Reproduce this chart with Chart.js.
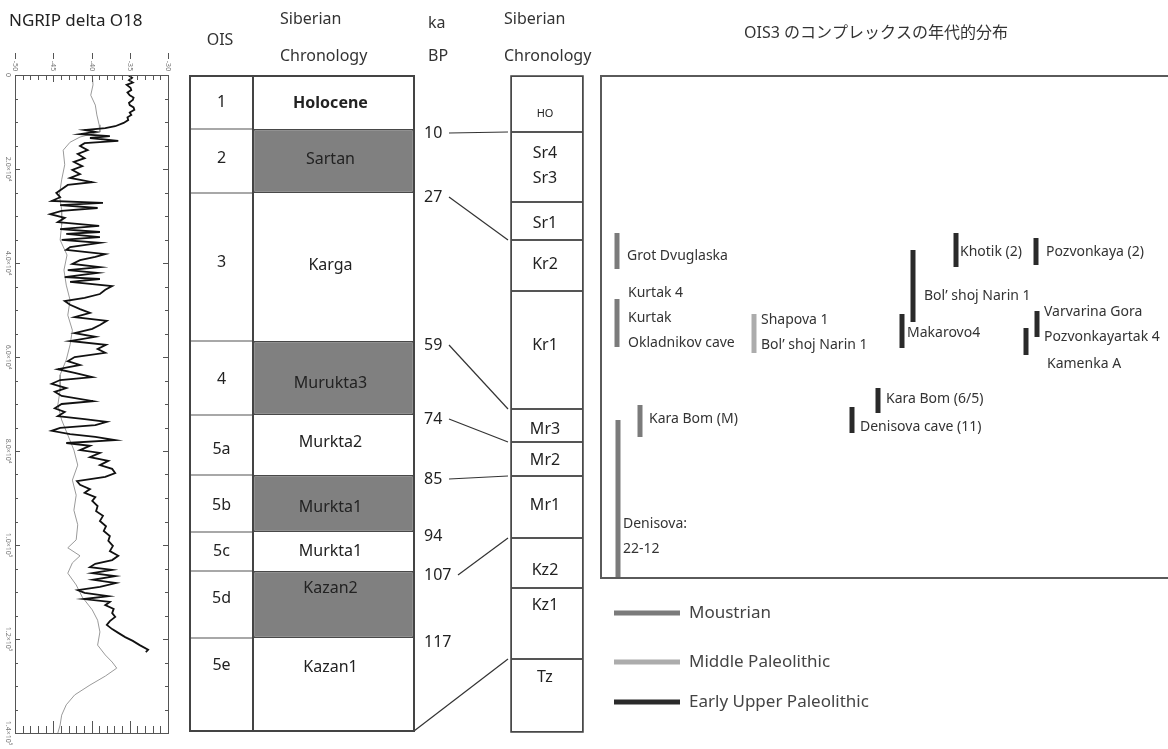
<!DOCTYPE html>
<html lang="ja">
<head>
<meta charset="utf-8">
<title>NGRIP delta O18 / Siberian Chronology</title>
<script src="https://cdn.jsdelivr.net/npm/chart.js@4.4.1/dist/chart.umd.min.js"></script>
<style>
  html, body { margin: 0; padding: 0; background: #fff; }
  .wrap { position: absolute; top: 0; height: 749px; }
  #ngripWrap { left: 0; width: 185px; }
  #chronoWrap { left: 185px; width: 983px; }
</style>
</head>
<body>
<div class="wrap" id="ngripWrap"><canvas id="ngrip"></canvas></div>
<div class="wrap" id="chronoWrap"><canvas id="chrono"></canvas></div>
<script>
const FONT = '"Noto Sans", "Noto Sans CJK JP", sans-serif';

// NGRIP delta O18 (permil) against age (ka)
const ngripAge = [0,0.6,1.1,1.6,2.1,2.7,3.2,3.7,4.3,4.8,5.3,5.9,6.4,6.9,7.4,8.0,8.5,9.0,9.6,
  10.2,10.9,11.3,11.7,12.1,12.6,13.0,13.4,14.0,14.5,
  15.1,16.0,16.8,17.7,18.5,19.4,20.2,21.1,21.9,22.8,
  23.4,24.3,25.1,26.0,26.8,27.2,27.7,28.3,28.9,29.6,
  30.4,31.3,32.1,32.8,33.4,33.8,34.5,35.1,35.7,36.6,
  37.2,38.1,38.7,39.4,40.2,40.9,41.5,42.1,43.0,43.4,
  44.0,44.9,45.7,46.6,47.4,48.1,48.9,49.8,50.6,51.5,
  52.3,53.2,54.0,54.9,55.7,56.6,57.4,58.3,59.1,60.0,
  60.9,61.7,62.6,63.4,64.3,64.9,65.7,66.6,67.4,68.3,
  69.4,70.0,70.9,71.7,72.6,73.2,73.8,74.5,75.1,75.7,
  76.4,77.0,77.7,78.3,78.9,79.8,80.4,81.3,82.1,83.0,
  83.8,84.7,85.5,86.4,87.2,88.1,88.9,89.8,90.6,91.7,
  92.8,93.8,94.9,96.0,97.0,98.1,99.1,100.2,101.3,102.3,
  103.2,104.0,104.7,105.3,106.0,106.6,107.4,108.1,108.9,109.6,
  110.2,110.9,111.5,112.1,112.8,113.6,114.5,115.3,116.2,117.0,
  117.9,118.7,119.6,120.4,121.3,122.3,122.8];
const ngripD18O = [-35.2,-34.7,-35.1,-34.6,-35.4,-34.9,-34.8,-35.3,-35.0,-34.5,-34.6,-35.1,-35.0,-34.5,-34.4,-35.0,-34.8,-35.3,-35.2,
  -35.8,-36.9,-38.2,-40.9,-39.5,-41.5,-37.6,-40.2,-36.5,-40.9,
  -41.5,-40.5,-41.8,-40.9,-42.3,-41.2,-42.5,-41.5,-42.8,-39.9,
  -43.1,-43.9,-44.6,-44.1,-45.2,-38.5,-44.1,-39.2,-43.9,-45.4,
  -43.5,-44.4,-39.0,-44.1,-38.9,-43.3,-38.9,-43.9,-38.9,-42.8,
  -43.3,-38.2,-39.5,-41.5,-42.5,-38.9,-43.1,-39.2,-43.5,-38.9,
  -42.8,-37.3,-38.2,-38.9,-40.9,-43.5,-42.8,-41.5,-40.2,-42.2,
  -38.0,-38.9,-39.9,-42.2,-39.5,-42.8,-38.1,-39.2,-38.2,-42.2,
  -43.1,-41.5,-44.4,-42.2,-39.9,-44.1,-45.2,-43.3,-44.8,-43.9,
  -39.8,-43.9,-44.8,-43.5,-44.4,-40.9,-38.0,-39.5,-44.1,-45.2,
  -42.8,-39.5,-36.9,-43.3,-40.2,-41.5,-38.9,-40.2,-37.8,-38.9,
  -37.3,-36.9,-38.2,-41.9,-41.5,-40.2,-40.9,-39.5,-39.9,-39.2,
  -39.4,-38.5,-38.9,-38.1,-38.4,-37.6,-37.8,-37.2,-37.6,-36.5,
  -37.3,-39.5,-40.2,-37.3,-39.9,-36.9,-39.8,-36.8,-38.9,-41.8,
  -40.9,-37.8,-41.0,-37.6,-38.2,-37.1,-37.3,-36.9,-37.6,-38.0,
  -37.3,-36.5,-35.6,-34.6,-33.7,-32.6,-32.9];

// the grey record drawn under it
const greyAge = [0,2.1,4.3,6.4,8.5,10.6,12.1,13.2,14.3,16.0,
  19.1,22.3,25.5,28.7,31.9,35.1,38.3,41.5,44.7,47.9,
  51.1,54.3,57.4,60.6,63.8,67.0,70.2,73.4,76.6,79.8,
  83.0,86.2,89.4,92.6,95.7,98.9,100.6,102.3,103.8,106.0,
  108.5,111.1,113.8,116.0,118.5,121.3,123.4,124.9,126.2,127.9,
  129.8,131.9,134.0,136.2,138.3,140.0];
const greyD18O = [-39.9,-39.8,-40.1,-39.5,-39.3,-39.0,-38.9,-41.5,-42.8,-43.7,
  -43.5,-43.9,-44.2,-43.9,-43.9,-44.1,-43.2,-43.6,-43.3,-42.8,
  -43.1,-42.5,-42.8,-43.3,-44.1,-44.1,-44.4,-43.9,-43.1,-42.3,
  -41.8,-42.5,-42.0,-42.3,-41.8,-42.0,-43.1,-41.5,-42.5,-43.1,
  -42.0,-41.2,-39.9,-39.2,-38.9,-39.2,-38.2,-37.3,-36.7,-38.2,
  -40.2,-42.2,-43.3,-43.9,-44.1,-44.4];

const ageTicks = [0, 20, 40, 60, 80, 100, 120, 140];
const ageTickLabels = ['0', '2.0×10⁴', '4.0×10⁴', '6.0×10⁴', '8.0×10⁴', '1.0×10⁵', '1.2×10⁵', '1.4×10⁵'];
const d18oTicks = [-50, -45, -40, -35, -30];

// OIS stages and Siberian names; boundaries in diagram depth (0 = top of table)
const oisStages = ['1', '2', '3', '4', '5a', '5b', '5c', '5d', '5e'];
const siberianStages = ['Holocene', 'Sartan', 'Karga', 'Murukta3', 'Murkta2', 'Murkta1', 'Murkta1', 'Kazan2', 'Kazan1'];
const siberianCold = [false, true, false, true, false, true, false, true, false];
const stageEdges = [0, 53, 117, 265, 339, 399, 456, 495, 562, 655];

// ka BP at each stage boundary, and the regional boundary it is tied to
const kaBP = [10, 27, 59, 74, 85, 94, 107, 117];
const kaLinkEdge = [56, 164, 333, 366, 400, null, 462, null];

// regional Siberian chronology column
const regional = ['HO', 'Sr4\nSr3', 'Sr1', 'Kr2', 'Kr1', 'Mr3', 'Mr2', 'Mr1', 'Kz2', 'Kz1', 'Tz'];
const regionalEdges = [0, 56, 126, 164, 215, 333, 366, 400, 462, 512, 583, 656];

// OIS3 complexes
const cultures = ['Moustrian', 'Middle Paleolithic', 'Early Upper Paleolithic'];
const siteNames = [
  ['Grot Dvuglaska'], ['Kurtak 4', 'Kurtak', 'Okladnikov cave'], ['Shapova 1', 'Bol’ shoj Narin 1'],
  ['Bol’ shoj Narin 1'], ['Makarovo4'], ['Khotik (2)'], ['Pozvonkaya (2)'],
  ['Varvarina Gora', 'Pozvonkayartak 4'], ['Kamenka A'], ['Kara Bom (6/5)'], ['Denisova cave (11)'],
  ['Kara Bom (M)'], ['Denisova:', '22-12']];
const siteCulture = ['Moustrian', 'Moustrian', 'Middle Paleolithic',
  'Early Upper Paleolithic', 'Early Upper Paleolithic', 'Early Upper Paleolithic', 'Early Upper Paleolithic',
  'Early Upper Paleolithic', 'Early Upper Paleolithic', 'Early Upper Paleolithic', 'Early Upper Paleolithic',
  'Moustrian', 'Moustrian'];
const siteFrom = [157, 223, 238, 174, 238, 157, 162, 235, 252, 312, 331, 329, 344];
const siteTo = [193, 271, 277, 246, 272, 191, 189, 261, 279, 337, 357, 361, 502];

// ---- layout (pixels in the right-hand canvas) ----
const COL = { ois: [5, 68], sib: [68, 229], reg: [326, 398] };
const BOX = { left: 416, right: 1000, bottom: 502 };
const LINK = { from2: 264, from3: 273, to: 323 };
const KA_X = 239;
const oisLabelAt = [26, 82, 186, 303, 373, 429, 475, 522, 589];
const sibLabelAt = [27, 83, 189, 307, 366, 431, 475, 512, 591];
const regLabelAt = [38, 77, 147, 188, 269, 353, 384, 429, 494, 529, 601];
const sitePlace = [
  { bar: 432, text: 442, at: 180 }, { bar: 432, text: 443, at: 217 }, { bar: 569, text: 576, at: 244 },
  { bar: 728, text: 739, at: 220 }, { bar: 717, text: 722, at: 257 }, { bar: 771, text: 775, at: 176 },
  { bar: 851, text: 861, at: 176 }, { bar: 852, text: 859, at: 236 }, { bar: 841, text: 862, at: 288 },
  { bar: 693, text: 701, at: 323 }, { bar: 667, text: 675, at: 351 }, { bar: 455, text: 464, at: 343 },
  { bar: 433, text: 438, at: 448 }];
const cultureColors = { 'Moustrian': '#7b7b7b', 'Middle Paleolithic': '#acacac', 'Early Upper Paleolithic': '#2a2a2a' };

const mid = c => (c[0] + c[1]) / 2;

// ---- NGRIP panel ----
const ngripAxes = {
  id: 'ngripAxes',
  afterDraw(chart) {
    const { ctx, chartArea: a, scales: { x, y } } = chart;
    ctx.save();
    ctx.strokeStyle = '#555';
    ctx.lineWidth = 1;
    ctx.strokeRect(a.left + 0.5, a.top + 0.5, a.right - a.left, a.bottom - a.top);
    ctx.beginPath();
    for (let v = x.min; v <= x.max; v += 1) {
      const px = Math.round(x.getPixelForValue(v)) + 0.5;
      const major = d18oTicks.includes(v);
      ctx.moveTo(px, a.top); ctx.lineTo(px, a.top + (major ? 7 : 5));
      ctx.moveTo(px, a.bottom); ctx.lineTo(px, a.bottom - (major ? 12 : 7));
      if (major) { ctx.moveTo(px, a.top - 22); ctx.lineTo(px, a.top - 16); }
    }
    for (let v = y.min; v <= y.max; v += 5) {
      const py = Math.round(y.getPixelForValue(v)) + 0.5;
      const major = ageTicks.includes(v);
      ctx.moveTo(a.left, py); ctx.lineTo(a.left + (major ? 5 : 3), py);
      ctx.moveTo(a.right, py); ctx.lineTo(a.right - (major ? 5 : 3), py);
    }
    ctx.stroke();

    ctx.fillStyle = '#777';
    ctx.font = `7px ${FONT}`;
    ctx.textAlign = 'center';
    ctx.textBaseline = 'middle';
    d18oTicks.forEach(v => {
      ctx.save();
      ctx.translate(x.getPixelForValue(v), a.top - 9);
      ctx.rotate(Math.PI / 2);
      ctx.fillText(String(v), 0, 0);
      ctx.restore();
    });
    ageTicks.forEach((v, i) => {
      ctx.save();
      ctx.translate(a.left - 7, y.getPixelForValue(v));
      ctx.rotate(Math.PI / 2);
      ctx.fillText(ageTickLabels[i], 0, 0);
      ctx.restore();
    });

    ctx.fillStyle = '#222';
    ctx.font = `17px ${FONT}`;
    ctx.textAlign = 'left';
    ctx.fillText('NGRIP delta O18', 9, 21);
    ctx.restore();
  }
};

new Chart(document.getElementById('ngrip'), {
  type: 'scatter',
  data: {
    datasets: [
      {
        data: ngripAge.map((t, i) => ({ x: ngripD18O[i], y: t })),
        showLine: true, borderColor: '#111', borderWidth: 1.8, pointRadius: 0, tension: 0
      },
      {
        data: greyAge.map((t, i) => ({ x: greyD18O[i], y: t })),
        showLine: true, borderColor: '#9a9a9a', borderWidth: 1, pointRadius: 0, tension: 0
      }
    ]
  },
  options: {
    responsive: true,
    maintainAspectRatio: false,
    animation: false,
    layout: { padding: { left: 15, right: 17, top: 75, bottom: 16 } },
    scales: {
      x: { type: 'linear', min: -50, max: -30, display: false },
      y: { type: 'linear', min: 0, max: 140, reverse: true, display: false }
    },
    plugins: { legend: { display: false }, tooltip: { enabled: false } }
  },
  plugins: [ngripAxes]
});

// ---- chronology panel ----
function cellData(edges, col) {
  return edges.slice(0, -1).map((top, i) => ({ x: mid(col), y: [top, edges[i + 1]] }));
}

const cellBase = { type: 'bar', grouped: true, stack: 'all', borderSkipped: false, inflateAmount: 0 };

const datasets = [
  Object.assign({}, cellBase, {
    data: cellData(stageEdges, COL.ois), barThickness: COL.ois[1] - COL.ois[0],
    backgroundColor: '#fff', borderColor: '#a8a8a8', borderWidth: 1
  }),
  Object.assign({}, cellBase, {
    data: cellData(stageEdges, COL.sib), barThickness: COL.sib[1] - COL.sib[0],
    backgroundColor: siberianCold.map(c => c ? '#808080' : '#fff'),
    borderColor: '#484848', borderWidth: siberianCold.map(c => c ? 1.5 : 0)
  }),
  Object.assign({}, cellBase, {
    data: cellData(regionalEdges, COL.reg), barThickness: COL.reg[1] - COL.reg[0],
    backgroundColor: '#fff', borderColor: '#555', borderWidth: 1
  })
];

cultures.forEach(c => {
  const data = [];
  siteCulture.forEach((sc, i) => {
    if (sc === c) data.push({ x: sitePlace[i].bar, y: [siteFrom[i], siteTo[i]] });
  });
  datasets.push(Object.assign({}, cellBase, {
    label: c, data, barThickness: 5, backgroundColor: cultureColors[c], borderWidth: 0
  }));
});

kaBP.forEach((ka, i) => {
  if (kaLinkEdge[i] === null) return;
  const from = ka >= 100 ? LINK.from3 : LINK.from2;
  datasets.push({
    type: 'line',
    data: [{ x: from, y: stageEdges[i + 1] + 4 }, { x: LINK.to, y: kaLinkEdge[i] }],
    borderColor: '#333', borderWidth: 1.2, pointRadius: 0
  });
});
// base of the OIS table tied to the Kz1 / Tz boundary
datasets.push({
  type: 'line',
  data: [{ x: COL.sib[1], y: stageEdges[stageEdges.length - 1] }, { x: LINK.to, y: regionalEdges[10] }],
  borderColor: '#333', borderWidth: 1.2, pointRadius: 0
});

const chronoText = {
  id: 'chronoText',
  afterDatasetsDraw(chart) {
    const { ctx, scales: { x, y } } = chart;
    const X = v => x.getPixelForValue(v);
    const Y = v => y.getPixelForValue(v);
    const tableBase = stageEdges[stageEdges.length - 1];
    ctx.save();

    // frames
    ctx.strokeStyle = '#444';
    ctx.lineWidth = 2;
    ctx.strokeRect(X(COL.ois[0]), Y(0), X(COL.sib[1]) - X(COL.ois[0]), Y(tableBase) - Y(0));
    ctx.beginPath();
    ctx.moveTo(X(COL.sib[0]), Y(0));
    ctx.lineTo(X(COL.sib[0]), Y(tableBase));
    ctx.stroke();
    ctx.lineWidth = 1.5;
    ctx.strokeRect(X(COL.reg[0]), Y(0), X(COL.reg[1]) - X(COL.reg[0]), Y(regionalEdges[regionalEdges.length - 1]) - Y(0));
    ctx.strokeStyle = '#5a5a5a';
    ctx.lineWidth = 2;
    ctx.strokeRect(X(BOX.left), Y(0), X(BOX.right) - X(BOX.left), Y(BOX.bottom) - Y(0));

    ctx.textBaseline = 'middle';

    // headers
    ctx.fillStyle = '#333';
    ctx.font = `16px ${FONT}`;
    ctx.textAlign = 'center';
    ctx.fillText('OIS', 35, 40);
    ctx.fillText('OIS3 のコンプレックスの年代的分布', 691, 33);
    ctx.textAlign = 'left';
    ctx.fillText('Siberian', 95, 19);
    ctx.fillText('Chronology', 95, 56);
    ctx.fillText('ka', 243, 23);
    ctx.fillText('BP', 243, 56);
    ctx.fillText('Siberian', 319, 19);
    ctx.fillText('Chronology', 319, 56);

    // OIS table
    ctx.fillStyle = '#222';
    ctx.textAlign = 'center';
    oisStages.forEach((s, i) => {
      ctx.font = `16px ${FONT}`;
      ctx.fillText(s, X(mid(COL.ois)), Y(oisLabelAt[i]));
      ctx.font = (i === 0 ? 'bold ' : '') + `16px ${FONT}`;
      ctx.fillText(siberianStages[i], X(mid(COL.sib)) - 3, Y(sibLabelAt[i]));
    });

    // ka BP
    ctx.font = `16px ${FONT}`;
    ctx.textAlign = 'left';
    kaBP.forEach((ka, i) => ctx.fillText(String(ka), X(KA_X), Y(stageEdges[i + 1] + 4)));

    // regional column
    ctx.textAlign = 'center';
    regional.forEach((r, i) => {
      ctx.font = (r === 'HO' ? '11px ' : '16px ') + FONT;
      r.split('\n').forEach((l, j) => ctx.fillText(l, X(mid(COL.reg)) - 2, Y(regLabelAt[i] + j * 25)));
    });

    // site labels
    ctx.fillStyle = '#333';
    ctx.font = `14px ${FONT}`;
    ctx.textAlign = 'left';
    siteNames.forEach((lines, i) => {
      lines.forEach((l, j) => ctx.fillText(l, X(sitePlace[i].text), Y(sitePlace[i].at + j * 25)));
    });

    // legend
    const legendRows = [613, 662, 702];
    ctx.font = `17px ${FONT}`;
    cultures.forEach((c, k) => {
      ctx.strokeStyle = cultureColors[c];
      ctx.lineWidth = 5;
      ctx.beginPath();
      ctx.moveTo(429, legendRows[k]);
      ctx.lineTo(495, legendRows[k]);
      ctx.stroke();
      ctx.fillStyle = '#444';
      ctx.fillText(c, 504, legendRows[k]);
    });
    ctx.restore();
  }
};

new Chart(document.getElementById('chrono'), {
  type: 'bar',
  data: { datasets },
  options: {
    responsive: true,
    maintainAspectRatio: false,
    animation: false,
    layout: { padding: { left: 0, right: 0, top: 76, bottom: 17 } },
    scales: {
      x: { type: 'linear', min: 0, max: 983, display: false, offset: false },
      y: { type: 'linear', min: 0, max: 656, reverse: true, display: false, stacked: false }
    },
    plugins: { legend: { display: false }, tooltip: { enabled: false } }
  },
  plugins: [chronoText]
});
</script>
</body>
</html>
